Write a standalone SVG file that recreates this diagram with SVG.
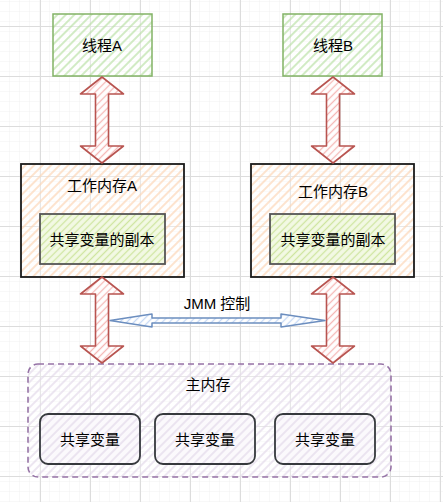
<svg xmlns="http://www.w3.org/2000/svg" width="443" height="502" viewBox="0 0 443 502">
<style>
text{font-family:"Liberation Sans","Noto Sans CJK SC",sans-serif;font-size:15px;fill:#000;text-anchor:middle;dominant-baseline:central}
.thread{fill:url(#hG);stroke:#82b366;stroke-width:1.5}
.work{fill:url(#hO);stroke:#1a1a1a;stroke-width:1.8}
.copy{fill:url(#hY);stroke:#555;stroke-width:1.8}
.main{fill:url(#hP);stroke:#9673a6;stroke-width:1.6;stroke-dasharray:6 4}
.var{fill:url(#hV);stroke:#36393d;stroke-width:1.8}
.red{fill:url(#hR);stroke:#b85450;stroke-width:1.6;stroke-linejoin:round}
.blue{fill:url(#hB);stroke:#6c8ebf;stroke-width:1.5;stroke-linejoin:round}
</style>
<defs>
<pattern id="gMinor" width="10" height="10" patternUnits="userSpaceOnUse" x="0" y="6">
<path d="M10 0V10M0 10H10" fill="none" stroke="#f0f0f0" stroke-width="1"/>
</pattern>
<pattern id="gMajor" width="50" height="50" patternUnits="userSpaceOnUse" x="40" y="26">
<rect width="50" height="50" fill="url(#gMinor)"/>
<path d="M0.5 0V50M0 0.5H50" fill="none" stroke="#dcdcdc" stroke-width="1"/>
</pattern>
<pattern id="hG" width="6" height="6" patternUnits="userSpaceOnUse" patternTransform="rotate(45)"><rect width="6" height="6" fill="#fff" fill-opacity="0.3"/><path d="M3 0V6" stroke="#b9e0a5" stroke-width="1.3"/></pattern>
<pattern id="hO" width="6" height="6" patternUnits="userSpaceOnUse" patternTransform="rotate(45)"><rect width="6" height="6" fill="#fff" fill-opacity="0.3"/><path d="M3 0V6" stroke="#fcd5b4" stroke-width="1.3"/></pattern>
<pattern id="hY" width="5" height="5" patternUnits="userSpaceOnUse" patternTransform="rotate(45)"><rect width="5" height="5" fill="#f3f9e4"/><path d="M2.5 0V5" stroke="#cfe5a0" stroke-width="1.3"/></pattern>
<pattern id="hP" width="6" height="6" patternUnits="userSpaceOnUse" patternTransform="rotate(45)"><rect width="6" height="6" fill="#fff" fill-opacity="0.3"/><path d="M3 0V6" stroke="#e3d9ea" stroke-width="1.3"/></pattern>
<pattern id="hV" width="6" height="6" patternUnits="userSpaceOnUse" patternTransform="rotate(45)"><rect width="6" height="6" fill="#fbf9fc"/><path d="M3 0V6" stroke="#e3d9ea" stroke-width="1.3"/></pattern>
<pattern id="hR" width="5" height="5" patternUnits="userSpaceOnUse" patternTransform="rotate(45)"><rect width="5" height="5" fill="#fff"/><path d="M2.5 0V5" stroke="#f5b8b6" stroke-width="1.3"/></pattern>
<pattern id="hB" width="5" height="5" patternUnits="userSpaceOnUse" patternTransform="rotate(45)"><rect width="5" height="5" fill="#fff"/><path d="M2.5 0V5" stroke="#c5d8f5" stroke-width="1.3"/></pattern>
</defs>
<rect width="443" height="502" fill="#fff"/>
<rect width="443" height="502" fill="url(#gMajor)"/>

<g id="threadA"><rect class="thread" x="53" y="14" width="99" height="62"/><text x="102" y="45">线程A</text></g>
<g id="threadB"><rect class="thread" x="283" y="14" width="99" height="62"/><text x="333" y="45">线程B</text></g>

<g id="workA"><rect class="work" x="21" y="164" width="163" height="113"/><text x="102" y="185">工作内存A</text></g>
<g id="copyA"><rect class="copy" x="40" y="214" width="125" height="50"/><text x="102" y="239">共享变量的副本</text></g>
<g id="workB"><rect class="work" x="251" y="164" width="163" height="113"/><text x="333" y="191">工作内存B</text></g>
<g id="copyB"><rect class="copy" x="270" y="214" width="125" height="50"/><text x="333" y="239">共享变量的副本</text></g>

<g id="mainMem"><rect class="main" x="28" y="364" width="363" height="113" rx="10"/><text x="208" y="384">主内存</text></g>
<g id="var1"><rect class="var" x="40" y="414" width="100" height="50" rx="8"/><text x="90" y="439">共享变量</text></g>
<g id="var2"><rect class="var" x="155" y="414" width="100" height="50" rx="8"/><text x="205" y="439">共享变量</text></g>
<g id="var3"><rect class="var" x="275" y="414" width="100" height="50" rx="8"/><text x="325" y="439">共享变量</text></g>

<g id="connectors">
<polygon class="red" points="102,77 123.5,94 108.5,94 108.5,146 123.5,146 102,163 80.5,146 95.5,146 95.5,94 80.5,94"/>
<polygon class="red" points="333,77 354.5,94 339.5,94 339.5,146 354.5,146 333,163 311.5,146 326.5,146 326.5,94 311.5,94"/>
<polygon class="red" points="102,277 123.5,294 108.5,294 108.5,346 123.5,346 102,363 80.5,346 95.5,346 95.5,294 80.5,294"/>
<polygon class="red" points="333,277 354.5,294 339.5,294 339.5,346 354.5,346 333,363 311.5,346 326.5,346 326.5,294 311.5,294"/>
<polygon class="blue" points="110,320.5 152,314 152,318 281,318 281,314 325,320.5 281,327 281,323 152,323 152,327"/>
<text x="217" y="303">JMM 控制</text>
</g>
</svg>
